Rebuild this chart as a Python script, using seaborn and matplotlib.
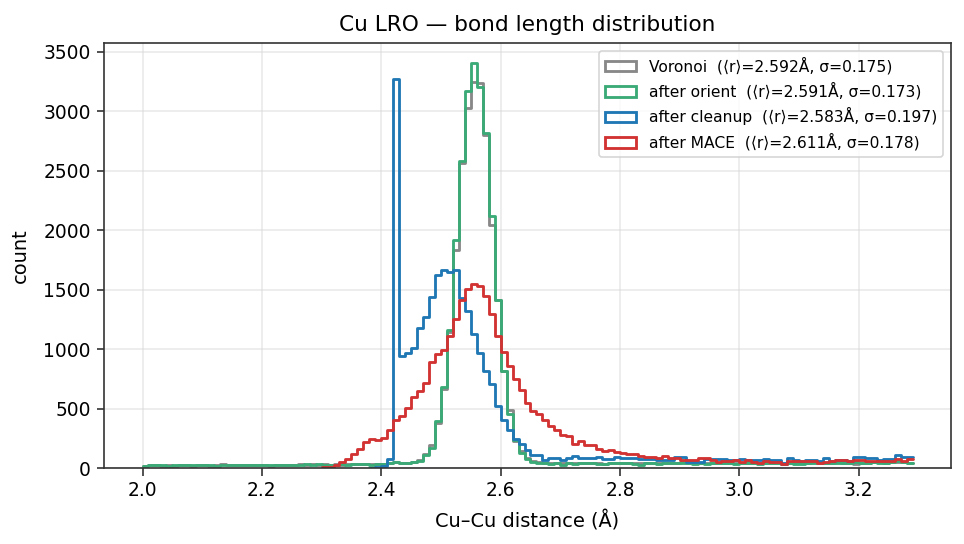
import numpy as np
import pandas as pd
import seaborn as sns
import matplotlib.pyplot as plt
from matplotlib.patches import Patch

# histogram bins: 0.01 Å wide, starting at 2.00 Å
bin_start = 2.0
bin_width = 0.01

# counts per bin, 129 bins from 2.00 to 3.29
voronoi = [
    18, 22, 26, 20, 24, 20, 22, 28, 20, 26,
    24, 20, 24, 30, 22, 26, 24, 26, 28, 22,
    26, 20, 26, 22, 28, 24, 30, 26, 30, 28,
    30, 26, 30, 28, 34, 30, 36, 32, 34, 36,
    32, 44, 52, 46, 45, 52, 70, 120, 190, 378,
    668, 1140, 1834, 2567, 3025, 3240, 3234, 2800, 2044, 1414,
    812, 486, 230, 140, 80, 56, 48, 45, 40, 46,
    38, 42, 40, 44, 40, 46, 42, 36, 44, 46,
    40, 44, 42, 38, 44, 42, 40, 46, 44, 42,
    48, 44, 40, 46, 42, 44, 46, 42, 44, 40,
    46, 42, 44, 40, 46, 44, 42, 34, 46, 40,
    42, 44, 52, 44, 46, 42, 48, 44, 42, 34,
    40, 46, 50, 48, 46, 50, 54, 52, 46,
]
after_orient = [
    20, 25, 22, 24, 20, 22, 26, 24, 22, 28,
    22, 24, 20, 22, 25, 24, 28, 22, 26, 24,
    22, 25, 22, 26, 24, 28, 26, 30, 28, 30,
    26, 28, 26, 30, 28, 36, 32, 30, 28, 32,
    30, 40, 47, 43, 43, 47, 60, 106, 168, 397,
    677, 1162, 1918, 2584, 3169, 3402, 3205, 2814, 2122, 1414,
    812, 456, 238, 126, 76, 50, 42, 42, 36, 42,
    28, 40, 36, 40, 38, 42, 36, 30, 40, 42,
    38, 40, 35, 22, 40, 38, 30, 40, 42, 38,
    45, 40, 36, 42, 35, 38, 42, 38, 40, 36,
    42, 38, 40, 36, 42, 40, 38, 30, 44, 32,
    36, 40, 42, 38, 44, 40, 46, 42, 40, 48,
    44, 42, 50, 46, 44, 48, 56, 50, 40,
]
after_cleanup = [
    0, 0, 0, 0, 0, 0, 0, 0, 0, 0,
    0, 0, 0, 0, 0, 0, 0, 0, 0, 0,
    0, 0, 0, 0, 0, 0, 0, 0, 0, 0,
    0, 0, 0, 0, 0, 0, 0, 0, 3, 5,
    14, 78, 3268, 943, 966, 1008, 1176, 1273, 1436, 1624,
    1666, 1646, 1660, 1428, 1316, 1128, 966, 812, 708, 518,
    406, 322, 244, 204, 154, 106, 106, 70, 87, 87,
    70, 87, 103, 87, 87, 87, 95, 78, 76, 95,
    81, 81, 81, 76, 76, 76, 64, 70, 70, 92,
    92, 50, 50, 50, 76, 76, 76, 78, 64, 64,
    78, 67, 67, 67, 76, 67, 67, 42, 81, 70,
    56, 70, 70, 60, 81, 56, 70, 70, 56, 95,
    95, 87, 87, 64, 78, 78, 112, 95, 95,
]
after_mace = [
    0, 0, 0, 0, 0, 0, 0, 0, 0, 0,
    0, 0, 0, 0, 0, 0, 0, 0, 0, 0,
    0, 0, 0, 0, 0, 0, 0, 0, 0, 0,
    5, 10, 28, 47, 76, 120, 160, 221, 244, 235,
    252, 322, 406, 439, 504, 596, 644, 714, 887, 960,
    994, 1111, 1252, 1414, 1504, 1548, 1526, 1442, 1296, 1106,
    974, 859, 748, 658, 546, 481, 453, 406, 355, 316,
    280, 265, 204, 224, 196, 190, 160, 140, 148, 131,
    125, 120, 120, 98, 96, 96, 81, 98, 84, 84,
    64, 70, 70, 81, 81, 64, 47, 60, 60, 64,
    47, 64, 50, 42, 56, 50, 50, 36, 60, 63,
    60, 60, 60, 42, 48, 62, 67, 67, 62, 67,
    67, 62, 62, 56, 60, 60, 78, 60, 78,
]

labels = [
    "Voronoi  (⟨r⟩=2.592Å, σ=0.175)",
    "after orient  (⟨r⟩=2.591Å, σ=0.173)",
    "after cleanup  (⟨r⟩=2.583Å, σ=0.197)",
    "after MACE  (⟨r⟩=2.611Å, σ=0.178)",
]
colors = ["#888888", "#3aaa76", "#1f77b4", "#d23232"]


def main():
    sns.set_style("ticks")
    plt.rcParams["font.family"] = ["DejaVu Sans"]
    plt.rcParams["text.color"] = "black"
    plt.rcParams["axes.labelcolor"] = "black"

    fig = plt.figure(figsize=(965 / 120, 544 / 120), dpi=120)
    ax = fig.add_axes([104 / 965, 1 - 468 / 544, (951 - 104) / 965, (468 - 43) / 544])

    n_bins = len(voronoi)
    edges = bin_start + bin_width * np.arange(n_bins + 1)
    centers = edges[:-1] + bin_width / 2

    series = [voronoi, after_orient, after_cleanup, after_mace]
    for counts, color in zip(series, colors):
        counts = np.asarray(counts, dtype=float)
        i0 = int(np.argmax(counts > 0))
        df = pd.DataFrame({"r": centers[i0:], "n": counts[i0:]})
        sns.histplot(data=df, x="r", weights="n", bins=list(edges[i0:]),
                     element="step", fill=False, color=color, linewidth=1.7,
                     ax=ax)

    ax.set_ylim(bottom=0)
    ax.grid(True, color="#d8d8d8", alpha=0.6, linewidth=0.9)
    ax.set_axisbelow(True)
    for s in ax.spines.values():
        s.set_color("#333333")
        s.set_linewidth(1.0)
    ax.tick_params(colors="#333333", labelcolor="black", labelsize=11.2,
                   length=4.5, width=1.0)

    ax.set_title("Cu LRO — bond length distribution", fontsize=13, pad=7)
    ax.set_xlabel("Cu–Cu distance (Å)", fontsize=11.6, labelpad=6)
    ax.set_ylabel("count", fontsize=11.6, labelpad=8)

    handles = [Patch(facecolor="none", edgecolor=c, linewidth=1.7) for c in colors]
    ax.legend(handles, labels, loc="upper right", fontsize=9.3, framealpha=0.8)

    fig.savefig("out.png", dpi=120)


if __name__ == "__main__":
    main()
